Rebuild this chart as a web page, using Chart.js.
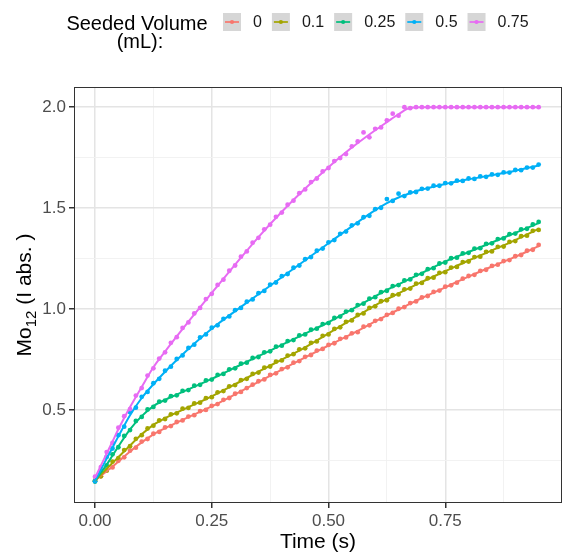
<!DOCTYPE html>
<html>
<head>
<meta charset="utf-8">
<script src="https://cdn.jsdelivr.net/npm/chart.js@4.4.1/dist/chart.umd.min.js"></script>
<style>
  html, body { margin: 0; padding: 0; background: #fff; }
  canvas { display: block; }
</style>
</head>
<body>
<canvas id="kinetics" width="566" height="558"></canvas>
<script>
// sampling times (s)
const time = [
  0, 0.0125, 0.025, 0.0375, 0.05, 0.0625, 0.075, 0.0875, 0.1, 0.1125,
  0.125, 0.1375, 0.15, 0.1625, 0.175, 0.1875, 0.2, 0.2125, 0.225, 0.2375,
  0.25, 0.2625, 0.275, 0.2875, 0.3, 0.3125, 0.325, 0.3375, 0.35, 0.3625,
  0.375, 0.3875, 0.4, 0.4125, 0.425, 0.4375, 0.45, 0.4625, 0.475, 0.4875,
  0.5, 0.5125, 0.525, 0.5375, 0.55, 0.5625, 0.575, 0.5875, 0.6, 0.6125,
  0.625, 0.6375, 0.65, 0.6625, 0.675, 0.6875, 0.7, 0.7125, 0.725, 0.7375,
  0.75, 0.7625, 0.775, 0.7875, 0.8, 0.8125, 0.825, 0.8375, 0.85, 0.8625,
  0.875, 0.8875, 0.9, 0.9125, 0.925, 0.9375, 0.95
];

// measured Mo12 absorbance, one list per seeded volume
const obs0 = [
  0.148, 0.172, 0.203, 0.216, 0.249, 0.266, 0.299, 0.314, 0.344, 0.357,
  0.383, 0.392, 0.414, 0.421, 0.441, 0.449, 0.468, 0.475, 0.495, 0.501,
  0.521, 0.530, 0.551, 0.560, 0.581, 0.590, 0.609, 0.626, 0.643, 0.652,
  0.674, 0.682, 0.703, 0.712, 0.735, 0.743, 0.764, 0.773, 0.795, 0.803,
  0.823, 0.831, 0.853, 0.860, 0.880, 0.886, 0.913, 0.920, 0.942, 0.951,
  0.972, 0.981, 1.002, 1.010, 1.030, 1.038, 1.058, 1.065, 1.085, 1.092,
  1.111, 1.118, 1.131, 1.151, 1.164, 1.170, 1.189, 1.195, 1.214, 1.220,
  1.238, 1.243, 1.262, 1.268, 1.289, 1.294, 1.318
];
const obs1 = [
  0.152, 0.172, 0.2, 0.245, 0.262, 0.302, 0.321, 0.358, 0.376, 0.409,
  0.423, 0.449, 0.456, 0.479, 0.484, 0.507, 0.511, 0.533, 0.537, 0.559,
  0.564, 0.588, 0.594, 0.618, 0.624, 0.648, 0.655, 0.679, 0.686, 0.71,
  0.716, 0.74, 0.746, 0.77, 0.777, 0.801, 0.806, 0.833, 0.84, 0.868,
  0.875, 0.902, 0.91, 0.937, 0.944, 0.971, 0.979, 1.006, 1.014, 1.039,
  1.044, 1.069, 1.073, 1.098, 1.102, 1.126, 1.13, 1.153, 1.156, 1.18,
  1.183, 1.206, 1.209, 1.233, 1.236, 1.258, 1.26, 1.284, 1.286, 1.308,
  1.31, 1.333, 1.337, 1.361, 1.364, 1.388, 1.392
];
const obs2 = [
  0.146, 0.196, 0.226, 0.281, 0.316, 0.372, 0.401, 0.446, 0.466, 0.503,
  0.516, 0.542, 0.547, 0.569, 0.573, 0.595, 0.599, 0.621, 0.625, 0.647,
  0.651, 0.674, 0.679, 0.702, 0.707, 0.73, 0.735, 0.758, 0.763, 0.786,
  0.791, 0.814, 0.819, 0.842, 0.847, 0.87, 0.875, 0.898, 0.903, 0.926,
  0.931, 0.956, 0.963, 0.988, 0.995, 1.02, 1.027, 1.052, 1.059, 1.084,
  1.091, 1.114, 1.119, 1.142, 1.147, 1.17, 1.175, 1.198, 1.203, 1.226,
  1.231, 1.252, 1.255, 1.276, 1.279, 1.3, 1.302, 1.323, 1.326, 1.347,
  1.35, 1.371, 1.374, 1.395, 1.398, 1.419, 1.432
];
const obs3 = [
  0.148, 0.2, 0.268, 0.31, 0.376, 0.418, 0.49, 0.512, 0.566, 0.59,
  0.633, 0.655, 0.695, 0.715, 0.753, 0.771, 0.808, 0.824, 0.86, 0.875,
  0.908, 0.92, 0.952, 0.964, 0.995, 1.006, 1.037, 1.048, 1.079, 1.09,
  1.121, 1.132, 1.163, 1.174, 1.205, 1.216, 1.247, 1.258, 1.289, 1.3,
  1.331, 1.342, 1.373, 1.384, 1.415, 1.425, 1.455, 1.462, 1.495, 1.502,
  1.545, 1.536, 1.572, 1.56, 1.578, 1.58, 1.596, 1.597, 1.611, 1.611,
  1.624, 1.623, 1.636, 1.635, 1.647, 1.645, 1.657, 1.655, 1.667, 1.665,
  1.677, 1.676, 1.689, 1.688, 1.701, 1.701, 1.716
];
const obs4 = [
  0.17, 0.218, 0.292, 0.338, 0.413, 0.47, 0.505, 0.572, 0.609, 0.671,
  0.707, 0.755, 0.786, 0.833, 0.861, 0.907, 0.934, 0.979, 1.006, 1.05,
  1.076, 1.12, 1.146, 1.19, 1.216, 1.26, 1.286, 1.329, 1.353, 1.395,
  1.418, 1.457, 1.478, 1.517, 1.537, 1.574, 1.593, 1.629, 1.647, 1.682,
  1.699, 1.733, 1.748, 1.768, 1.806, 1.83, 1.875, 1.851, 1.893, 1.9,
  1.935, 1.968, 1.958, 2.0, 1.995, 2.0, 2.0, 2.0, 2.0, 2.0,
  2.0, 2.0, 2.0, 2.0, 2.0, 2.0, 2.0, 2.0, 2.0, 2.0,
  2.0, 2.0, 2.0, 2.0, 2.0, 2.0, 2.0
];

// smoothed trend for each volume
const fitTime = [
  0, 0.0125, 0.025, 0.0375, 0.05, 0.075, 0.1, 0.125, 0.15, 0.175,
  0.2, 0.25, 0.3, 0.35, 0.4, 0.45, 0.5, 0.55, 0.6, 0.625,
  0.65, 0.675, 0.7, 0.75, 0.8, 0.85, 0.9, 0.95
];
const fit0 = [
  0.15, 0.175, 0.198, 0.22, 0.245, 0.295, 0.34, 0.38, 0.41, 0.438,
  0.465, 0.518, 0.578, 0.64, 0.70, 0.761, 0.82, 0.877, 0.939, 0.969,
  0.998, 1.027, 1.055, 1.108, 1.161, 1.211, 1.259, 1.312
];
const fit1 = [
  0.15, 0.18, 0.21, 0.238, 0.267, 0.325, 0.38, 0.427, 0.46, 0.488,
  0.515, 0.568, 0.628, 0.69, 0.75, 0.811, 0.88, 0.949, 1.019, 1.049,
  1.078, 1.107, 1.135, 1.188, 1.241, 1.291, 1.342, 1.397
];
const fit2 = [
  0.15, 0.19, 0.23, 0.275, 0.32, 0.405, 0.47, 0.52, 0.551, 0.577,
  0.603, 0.655, 0.711, 0.767, 0.823, 0.879, 0.935, 0.999, 1.063, 1.095,
  1.123, 1.151, 1.179, 1.235, 1.283, 1.33, 1.378, 1.426
];
const fit3 = [
  0.15, 0.205, 0.26, 0.315, 0.37, 0.475, 0.56, 0.628, 0.69, 0.748,
  0.803, 0.903, 0.99, 1.074, 1.158, 1.242, 1.326, 1.41, 1.49, 1.525,
  1.553, 1.574, 1.592, 1.62, 1.643, 1.663, 1.685, 1.711
];
const fit4 = [
  0.165, 0.225, 0.285, 0.345, 0.405, 0.515, 0.615, 0.712, 0.79, 0.865,
  0.938, 1.08, 1.22, 1.357, 1.482, 1.597, 1.703, 1.8, 1.886, 1.926,
  1.965, 1.997, 2.0, 2.0, 2.0, 2.0, 2.0, 2.0
];

const volumes = ['0', '0.1', '0.25', '0.5', '0.75'];
const colors = ['#F8766D', '#A3A500', '#00BF7D', '#00B0F6', '#E76BF3'];

const xTicks = [0, 0.25, 0.5, 0.75];
const xTickLabels = ['0.00', '0.25', '0.50', '0.75'];
const xMinor = [0.125, 0.375, 0.625, 0.875];
const yTicks = [0.5, 1, 1.5, 2];
const yTickLabels = ['0.5', '1.0', '1.5', '2.0'];
const yMinor = [0.25, 0.75, 1.25, 1.75];

const FONT = '"Liberation Sans", Arial, Helvetica, sans-serif';
Chart.defaults.font.family = FONT;

const obs = [obs0, obs1, obs2, obs3, obs4];
const fits = [fit0, fit1, fit2, fit3, fit4];

const datasets = [];
obs.forEach((vals, k) => {
  datasets.push({
    label: volumes[k] + ' pts',
    data: time.map((t, i) => ({ x: t, y: vals[i] })),
    showLine: false,
    pointRadius: 2.4,
    pointBorderWidth: 0,
    pointBackgroundColor: colors[k],
    order: 9 - k
  });
});
fits.forEach((vals, k) => {
  datasets.push({
    label: volumes[k],
    data: fitTime.map((t, i) => ({ x: t, y: vals[i] })),
    showLine: true,
    pointRadius: 0,
    borderColor: colors[k],
    borderWidth: 2,
    cubicInterpolationMode: 'monotone',
    order: 4 - k
  });
});

// ggplot-like axis: major ticks labelled, minor ticks only as faint grid
function panelAxis(min, max, major, labels, minor, fit) {
  const isMajor = c => c.tick && major.includes(c.tick.value);
  return {
    type: 'linear',
    min: min,
    max: max,
    afterBuildTicks: s => {
      s.ticks = major.concat(minor).sort((a, b) => a - b).map(v => ({ value: v }));
    },
    afterFit: fit,
    ticks: {
      autoSkip: false,
      maxRotation: 0,
      color: '#4d4d4d',
      font: { size: 17 },
      padding: 3,
      callback: v => {
        const i = major.indexOf(v);
        return i < 0 ? '' : labels[i];
      }
    },
    grid: {
      color: c => isMajor(c) ? '#e4e4e4' : '#f1f1f1',
      lineWidth: c => isMajor(c) ? 1.5 : 0.9,
      tickColor: c => isMajor(c) ? '#333333' : 'rgba(0,0,0,0)',
      tickLength: 5
    },
    border: { display: false }
  };
}

const decor = {
  id: 'decor',
  afterDraw(chart) {
    const ctx = chart.ctx;
    const a = chart.chartArea;
    ctx.save();

    // panel border
    ctx.strokeStyle = '#333333';
    ctx.lineWidth = 1;
    ctx.strokeRect(a.left + 0.5, a.top + 0.5, a.right - a.left - 1, a.bottom - a.top - 1);

    // x title
    ctx.fillStyle = '#000';
    ctx.font = '21px ' + FONT;
    ctx.textAlign = 'center';
    ctx.textBaseline = 'alphabetic';
    ctx.fillText('Time (s)', (a.left + a.right) / 2, 548);

    // y title, Mo with subscript 12
    ctx.save();
    ctx.translate(31, (a.top + a.bottom) / 2);
    ctx.rotate(-Math.PI / 2);
    ctx.textAlign = 'left';
    const big = '21px ' + FONT, small = '15px ' + FONT;
    ctx.font = big;
    const w1 = ctx.measureText('Mo').width;
    const w3 = ctx.measureText(' (I abs. )').width;
    ctx.font = small;
    const w2 = ctx.measureText('12').width;
    let x = -(w1 + w2 + w3) / 2;
    ctx.font = big;
    ctx.fillText('Mo', x, 0);
    x += w1;
    ctx.font = small;
    ctx.fillText('12', x, 5);
    x += w2;
    ctx.font = big;
    ctx.fillText(' (I abs. )', x, 0);
    ctx.restore();

    // legend
    ctx.font = '20px ' + FONT;
    ctx.textAlign = 'center';
    ctx.fillText('Seeded Volume', 137, 30);
    ctx.fillText('(mL):', 140, 48);

    ctx.font = '16px ' + FONT;
    ctx.textAlign = 'left';
    ctx.textBaseline = 'middle';
    let kx = 223;
    const ky = 13, ks = 18;
    volumes.forEach((v, k) => {
      ctx.fillStyle = '#d6d6d6';
      ctx.fillRect(kx, ky, ks, ks);
      ctx.strokeStyle = colors[k];
      ctx.lineWidth = 1.7;
      ctx.beginPath();
      ctx.moveTo(kx + 2, ky + ks / 2);
      ctx.lineTo(kx + ks - 2, ky + ks / 2);
      ctx.stroke();
      ctx.fillStyle = colors[k];
      ctx.beginPath();
      ctx.arc(kx + ks / 2, ky + ks / 2, 2.1, 0, Math.PI * 2);
      ctx.fill();
      ctx.fillStyle = '#1a1a1a';
      ctx.fillText(v, kx + ks + 12, ky + ks / 2 + 1);
      kx += ks + 12 + ctx.measureText(v).width + 10;
    });

    ctx.restore();
  }
};

new Chart(document.getElementById('kinetics'), {
  type: 'scatter',
  data: { datasets: datasets },
  options: {
    responsive: false,
    animation: false,
    layout: { padding: { top: 87, right: 3, bottom: 0, left: 0 } },
    scales: {
      x: panelAxis(-0.045, 1.0, xTicks, xTickLabels, xMinor, s => { s.height = 55; }),
      y: panelAxis(0.04, 2.1, yTicks, yTickLabels, yMinor, s => { s.width = 74; })
    },
    plugins: {
      legend: { display: false },
      tooltip: { enabled: false }
    }
  },
  plugins: [decor]
});
</script>
</body>
</html>
